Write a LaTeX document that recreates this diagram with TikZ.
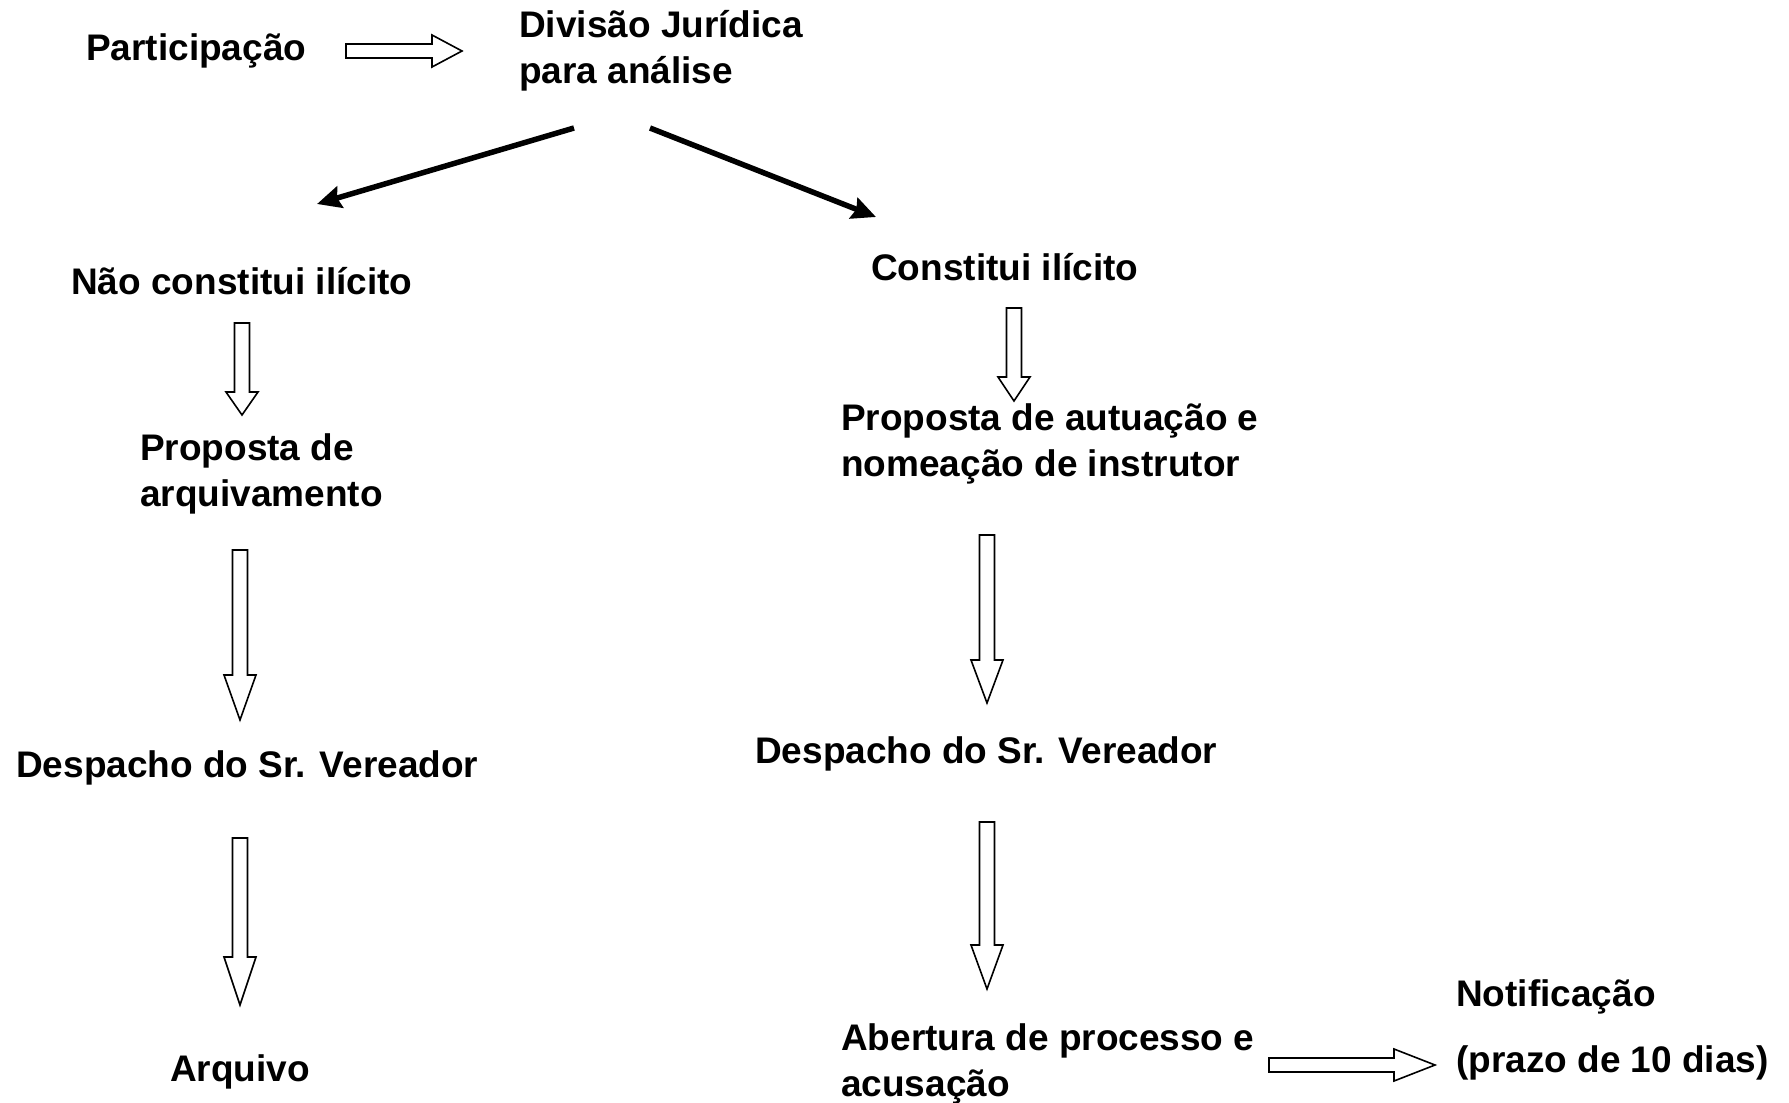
\documentclass[tikz,border=0pt]{standalone}
\usepackage{fontspec}
\setmainfont{Liberation Sans}
\usetikzlibrary{calc,arrows.meta}

\begin{document}
\begin{tikzpicture}[x=1pt,y=-1pt,
		txt/.style={font=\fontsize{37}{46}\selectfont\bfseries,inner sep=0pt,anchor=base west,align=left},
		bigarrow/.style={line width=5.5pt,-{Stealth[length=24pt,width=22pt,inset=3pt]}},
		hollow/.style={draw,line width=1.6pt,fill=white,line join=miter},
		hollowdown/.style={to path={
			let \p1=(\tikztostart), \p2=(\tikztotarget) in
			(\x1-7.5pt,\y1) -- (\x1+7.5pt,\y1) -- (\x1+7.5pt,\y2+#1) -- (\x1+16pt,\y2+#1)
			-- (\x1,\y2) -- (\x1-16pt,\y2+#1) -- (\x1-7.5pt,\y2+#1) -- cycle}},
		hollowright/.style={to path={
			let \p1=(\tikztostart), \p2=(\tikztotarget) in
			(\x1,\y1+7pt) -- (\x2-#1,\y1+7pt) -- (\x2-#1,\y1+16pt) -- (\x2,\y1)
			-- (\x2-#1,\y1-16pt) -- (\x2-#1,\y1-7pt) -- (\x1,\y1-7pt) -- cycle}}]
		\useasboundingbox[fill=white] (0,0) rectangle (1789,1103);
		% text
		\node[txt] (part) at (86,60) {Participação};
		\node[txt] (div) at (519,83) {Divisão Jurídica\\para análise};
		\node[txt] (nao) at (71,294) {Não constitui ilícito};
		\node[txt] (parq) at (140,506) {Proposta de\\arquivamento};
		\node[txt] (despl) at (16,777) {Despacho do Sr. Vereador};
		\node[txt] (arq) at (170,1081) {Arquivo};
		\node[txt] (const) at (871,280) {Constitui ilícito};
		\node[txt] (paut) at (841,476) {Proposta de autuação e\\nomeação de instrutor};
		\node[txt] (despr) at (755,763) {Despacho do Sr. Vereador};
		\node[txt] (aber) at (841,1096) {Abertura de processo e\\acusação};
		\node[txt] (notif) at (1456,1072) {Notificação\\[20pt](prazo de 10 dias)};
		% arrow ends
		\coordinate (part_e) at (346,51);  \coordinate (div_w) at (462,51);
		\coordinate (div_l) at (574,128);  \coordinate (nao_n) at (317,204);
		\coordinate (div_r) at (650,128);  \coordinate (const_n) at (876,217);
		\coordinate (nao_s) at (242,323);  \coordinate (parq_n) at (242,415);
		\coordinate (parq_s) at (240,550); \coordinate (despl_n) at (240,720);
		\coordinate (despl_s) at (240,838); \coordinate (arq_n) at (240,1005);
		\coordinate (const_s) at (1014,308); \coordinate (paut_n) at (1014,401);
		\coordinate (paut_s) at (987,535); \coordinate (despr_n) at (987,703);
		\coordinate (despr_s) at (987,822); \coordinate (aber_n) at (987,989);
		\coordinate (aber_e) at (1269,1065); \coordinate (notif_w) at (1435,1065);
		% connectors
		\draw[hollow] (part_e) to[hollowright=30pt] (div_w);
		\draw[bigarrow] (div_l) -- (nao_n);
		\draw[bigarrow] (div_r) -- (const_n);
			\draw[hollow] (nao_s) to[hollowdown=23pt] (parq_n);
			\draw[hollow] (parq_s) to[hollowdown=45pt] (despl_n);
			\draw[hollow] (despl_s) to[hollowdown=48pt] (arq_n);
			\draw[hollow] (const_s) to[hollowdown=24pt] (paut_n);
			\draw[hollow] (paut_s) to[hollowdown=43pt] (despr_n);
			\draw[hollow] (despr_s) to[hollowdown=44pt] (aber_n);
		\draw[hollow] (aber_e) to[hollowright=41pt] (notif_w);
\end{tikzpicture}
\end{document}
